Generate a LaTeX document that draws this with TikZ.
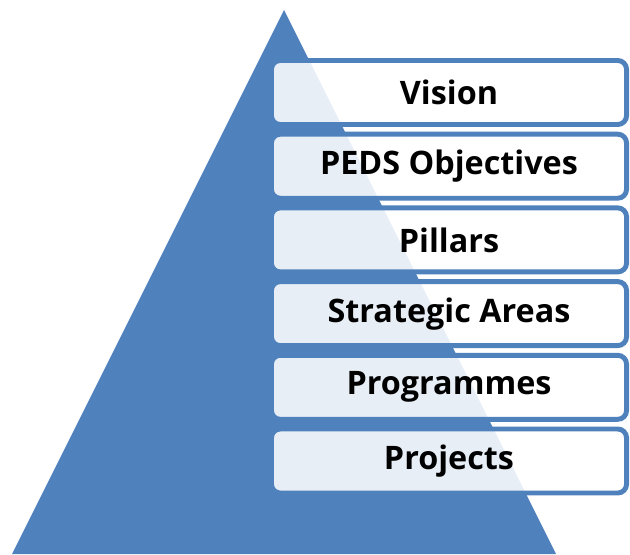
\documentclass[tikz,border=0pt]{standalone}
\usepackage{fontspec}
\setmainfont{Open Sans}
\usepackage{tikz}
\usepackage{xcolor}
\definecolor{pyrblue}{RGB}{79,129,189}
\tikzset{%
    level/.style={%
        draw=pyrblue, line width=3.5pt, rounded corners=0.22cm,
        fill=white, fill opacity=0.87, text opacity=1,
        minimum width=8.875cm, minimum height=1.6cm,
        font=\fontsize{23}{27}\selectfont\bfseries
    }
}

\begin{document}
\begin{tikzpicture}[x=0.025cm,y=-0.025cm]
    \useasboundingbox (0,0) rectangle (630,554);
    \fill[pyrblue] (284,10) -- (556,554) -- (12,554) -- cycle;
    \foreach \name/\txt [count=\i] in {vision/Vision, peds/PEDS Objectives, pillars/Pillars, areas/Strategic Areas, progs/Programmes, projs/Projects}
    {
    \node[level] (\name) at (449,{92.5+73.7*(\i-1)}) {\txt};
    }
\end{tikzpicture}
\end{document}
